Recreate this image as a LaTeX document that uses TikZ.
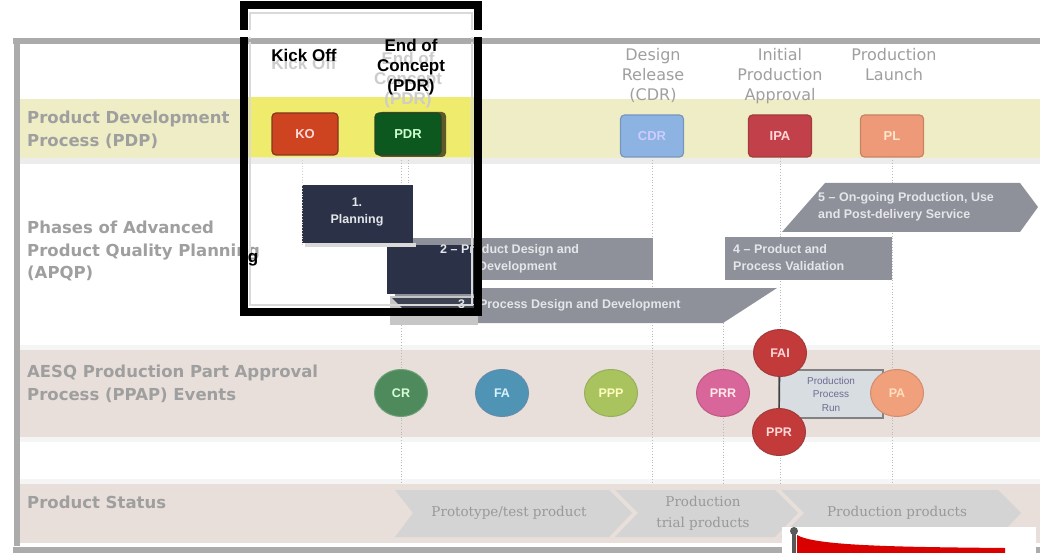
\documentclass[tikz,border=0pt]{standalone}
\usepackage{fontspec}
\setmainfont{DejaVu Sans}
\newfontfamily\arialf{Liberation Sans}
\newfontfamily\serff{DejaVu Serif}
\usetikzlibrary{shapes.geometric,calc}
\definecolor{frame}{HTML}{ABABAB}
\definecolor{lbl}{HTML}{9F9F9F}
\definecolor{pdpband}{HTML}{EEEDC6}
\definecolor{pdpbright}{HTML}{EFEB6C}
\definecolor{ppapband}{HTML}{E8DEDA}
\definecolor{navy}{HTML}{2B3247}
\definecolor{phgray}{HTML}{8E9199}
\definecolor{chev}{HTML}{D4D4D4}
\definecolor{phtxt}{HTML}{E4E6EA}
\tikzset{
  rowlabel/.style={anchor=north west, align=left, text=lbl, font=\bfseries\fontsize{16.5}{22.5}\selectfont},
  hdr/.style={anchor=north, align=center, text=lbl, font=\fontsize{16}{20}\selectfont},
  blackhdr/.style={align=center, text=black, font=\arialf\bfseries\fontsize{17}{20}\selectfont},
  ghosthdr/.style={align=center, text=gray!40, font=\arialf\bfseries\fontsize{17}{20}\selectfont},
  btn/.style={rounded corners=4pt, minimum width=66pt, minimum height=42pt, line width=1.2pt, font=\arialf\bfseries\fontsize{13}{13}\selectfont},
  phtext/.style={align=left, text=phtxt, font=\arialf\bfseries\fontsize{12.5}{17}\selectfont},
  evt/.style={ellipse, minimum width=53pt, minimum height=47pt, line width=1pt, font=\arialf\bfseries\fontsize{12.5}{12}\selectfont},
  guide/.style={gray!55, dotted, line width=0.8pt},
  chevtext/.style={align=center, text=gray!80, font=\serff\fontsize{13.5}{21}\selectfont},
  every node/.style={inner sep=0pt}
}
\begin{document}
\begin{tikzpicture}[x=1pt,y=-1pt]
\useasboundingbox (0,0) rectangle (1040,553);
\fill[white] (0,0) rectangle (1040,553);
% bands
\fill[pdpband] (20,99) rectangle (1040,158);
\fill[gray!15] (20,158) rectangle (1040,164);
\fill[gray!8] (20,345) rectangle (1040,350);
\fill[ppapband] (20,350) rectangle (1040,437);
\fill[gray!8] (20,437) rectangle (1040,442);
\fill[gray!8] (20,479) rectangle (1040,484);
\fill[ppapband] (20,484) rectangle (1040,543);
\fill[pdpbright] (247,97) rectangle (474,157);
% frame
\draw[frame, line width=6pt] (13,41) -- (1040,41);
\draw[frame, line width=6pt] (17,38) -- (17,546);
\fill[frame] (13,547) rectangle (1040,553);
% row labels
\node[rowlabel] (lpdp) at (27,111) {Product Development\\Process (PDP)};
\node[rowlabel] (lapqp) at (27,221) {Phases of Advanced\\Product Quality Planning\\(APQP)};
\node[rowlabel] (lppap) at (27,365) {AESQ Production Part Approval\\Process (PPAP) Events};
\node[rowlabel] (lstat) at (27,496) {Product Status};
% header labels
\node[hdr] (hcdr) at (653,48) {Design\\Release\\(CDR)};
\node[hdr] (hipa) at (780,48) {Initial\\Production\\Approval};
\node[hdr] (hpl) at (894,48) {Production\\Launch};
% guides
\coordinate (g1t) at (302,160); \coordinate (g1b) at (302,245);
\coordinate (g2t) at (401,160); \coordinate (g2b) at (401,483);
\coordinate (g3t) at (408,160); \coordinate (g3b) at (408,186);
\coordinate (g4t) at (652,160); \coordinate (g4b) at (652,483);
\coordinate (g5t) at (723,323); \coordinate (g5b) at (723,483);
\coordinate (g6t) at (780,158); \coordinate (g6b) at (780,483);
\coordinate (g7t) at (892,160); \coordinate (g7b) at (892,483);
\draw[guide] (g2t) -- (g2b);
\draw[guide] (g3t) -- (g3b);
\draw[guide] (g4t) -- (g4b);
\draw[guide] (g5t) -- (g5b);
\draw[guide] (g6t) -- (g6b);
\draw[guide] (g7t) -- (g7b);
% buttons
\fill[black!45!olive, rounded corners=4pt] (378,112) rectangle (446,157);
\node[btn, fill={rgb,255:red,206;green,68;blue,32}, draw={rgb,255:red,130;green,55;blue,30}, text=white!85!red] (KO) at (305,134) {KO};
\node[btn, fill={rgb,255:red,12;green,88;blue,30}, draw={rgb,255:red,40;green,70;blue,35}, text=green!20!white] (PDR) at (408,134) {PDR};
\node[btn, minimum width=63pt, fill={rgb,255:red,141;green,179;blue,226}, draw={rgb,255:red,120;green,150;blue,190}, text=white!80!blue] (CDR) at (652,136) {CDR};
\node[btn, minimum width=63pt, fill={rgb,255:red,194;green,64;blue,74}, draw={rgb,255:red,160;green,60;blue,60}, text=white!85!red] (IPA) at (780,136) {IPA};
\node[btn, minimum width=63pt, fill={rgb,255:red,238;green,154;blue,120}, draw={rgb,255:red,200;green,130;blue,100}, text=white!80!orange] (PL) at (892,136) {PL};
% phases
\fill[phgray] (387,238) rectangle (653,280);
\fill[phgray] (395,288) -- (777,288) -- (723,323) -- (395,323) -- cycle;
\fill[phgray] (725,237) rectangle (892,280);
\fill[phgray] (825,183) -- (1020,183) -- (1038,207) -- (1020,232) -- (782,232) -- cycle;
\fill[gray!45] (390,296) rectangle (478,325);
\fill[navy] (387,245) rectangle (478,294);
\fill[navy!80!gray] (392,298) -- (478,298) -- (478,310) -- (404,310) -- cycle;
\fill[gray!30] (305,243) rectangle (416,247);
\fill[navy] (302,185) rectangle (413,243);
\draw[guide, gray!35] (g1t) -- (g1b);
\node[phtext, align=center] (p1) at (357,212) {1.\\Planning};
\node[phtext, anchor=west] (p2) at (440,259) {2 – Product Design and\\\hspace*{38pt}Development};
\node[phtext, anchor=west] (p3) at (458,305) {3 – Process Design and Development};
\node[phtext, anchor=west] (p4) at (733,258) {4 – Product and\\Process Validation};
\node[phtext, anchor=west] (p5) at (818,207) {5 – On-going Production, Use\\and Post-delivery Service};
% PPAP events
\node[evt, fill={rgb,255:red,78;green,138;blue,92}, draw={rgb,255:red,110;green,160;blue,120}, text=green!15!white] (CR) at (401,393) {CR};
\node[evt, fill={rgb,255:red,79;green,148;blue,180}, draw={rgb,255:red,100;green,140;blue,170}, text=cyan!15!white] (FA) at (502,393) {FA};
\node[evt, fill={rgb,255:red,169;green,195;blue,94}, draw={rgb,255:red,150;green,175;blue,90}, text=yellow!25!white] (PPP) at (611,393) {PPP};
\node[evt, fill={rgb,255:red,217;green,102;blue,154}, draw={rgb,255:red,190;green,90;blue,130}, text=pink!35!white] (PRR) at (723,393) {PRR};
\node[draw={rgb,255:red,130;green,130;blue,130}, line width=1.2pt, fill={rgb,255:red,216;green,221;blue,226}, minimum width=104pt, minimum height=48pt, align=center, text=gray!85!blue, font=\arialf\fontsize{10}{13.5}\selectfont] (PPRUN) at (831,394) {Production\\Process\\Run};
\node[evt, fill={rgb,255:red,194;green,58;blue,58}, draw={rgb,255:red,160;green,60;blue,60}, text=white!85!red] (FAI) at (780,353) {FAI};
\node[evt, fill={rgb,255:red,194;green,58;blue,58}, draw={rgb,255:red,160;green,60;blue,60}, text=white!85!red] (PPR) at (779,432) {PPR};
\draw[gray!50!black, line width=1.2pt] (FAI) -- (PPR);
\node[evt, fill={rgb,255:red,240;green,160;blue,122}, draw={rgb,255:red,210;green,140;blue,110}, text=white!75!orange] (PA) at (897,393) {PA};
% product status chevrons
\fill[chev] (395,490) -- (609,490) -- (632,513) -- (609,537) -- (395,537) -- (413,513) -- cycle;
\fill[chev] (615,490) -- (775,490) -- (798,513) -- (775,537) -- (615,537) -- (638,513) -- cycle;
\fill[chev] (781,490) -- (998,490) -- (1021,513) -- (998,537) -- (781,537) -- (804,513) -- cycle;
\node[chevtext] (s1) at (509,513) {Prototype/test product};
\node[chevtext] (s2) at (703,513) {Production\\trial products};
\node[chevtext] (s3) at (897,513) {Production products};
% black highlight frame
\draw[gray!30, line width=2pt] (250,13) rectangle (472,305);
\draw[black, line width=8pt] (243.5,5.5) rectangle (477.5,312);
\fill[white] (236,30) rectangle (486,37);
\draw[frame, line width=3pt] (248,41) -- (473,41);
% header in black frame
\node[ghosthdr] (kog) at (304,63) {Kick Off};
\node[blackhdr] (kickoff) at (304,55) {Kick Off};
\node[ghosthdr] (eocg) at (408,80) {End of\\Concept\\(PDR)};
\node[blackhdr] (eoc) at (411,67) {End of\\Concept\\(PDR)};
\node[text=black, font=\arialf\bfseries\fontsize{17}{20}\selectfont] (gg) at (253,260) {g};
% bottom-right overlay
\fill[white] (782,527) rectangle (1036,553);
\fill[red!85!black] (797,535) .. controls (815,546) and (900,547) .. (1005,548) -- (1005,553) -- (797,553) -- cycle;
\fill[gray!70!black] (792,533) rectangle (796,553);
\fill[gray!70!black] (794,531) circle (4pt);
\fill[frame] (1036,547) rectangle (1040,551);
\end{tikzpicture}
\end{document}
